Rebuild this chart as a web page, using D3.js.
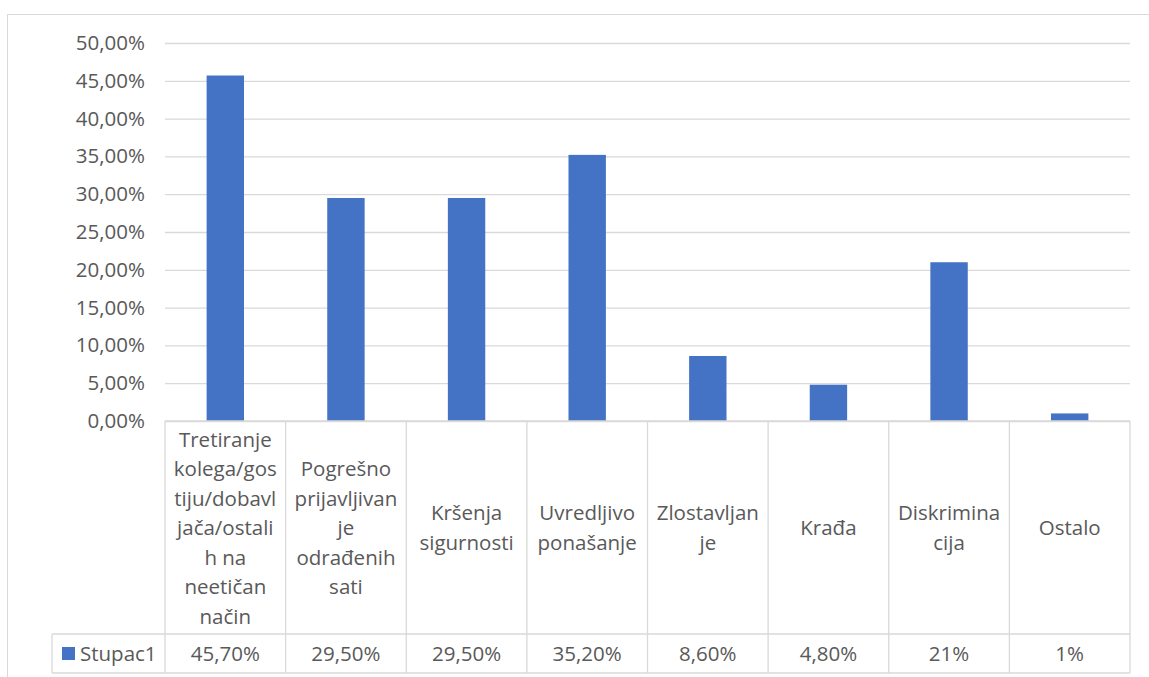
<!DOCTYPE html>
<html>
<head>
<meta charset="utf-8">
<script src="https://cdn.jsdelivr.net/npm/d3@7"></script>
<style>
  body { margin: 0; background: #fff; }
  text { font-family: "Open Sans", sans-serif; fill: #595959; }
</style>
</head>
<body>
<svg id="chart" width="1149" height="677"></svg>
<script>
// data
const categories = [
  "Tretiranje kolega/gostiju/dobavljača/ostalih na neetičan način",
  "Pogrešno prijavljivanje odrađenih sati",
  "Kršenja sigurnosti",
  "Uvredljivo ponašanje",
  "Zlostavljanje",
  "Krađa",
  "Diskriminacija",
  "Ostalo"
];
// wrapped the way the table shows them
const categoryLines = [
  ["Tretiranje", "kolega/gos", "tiju/dobavl", "jača/ostali", "h na", "neetičan", "način"],
  ["Pogrešno", "prijavljivan", "je", "odrađenih", "sati"],
  ["Kršenja", "sigurnosti"],
  ["Uvredljivo", "ponašanje"],
  ["Zlostavljan", "je"],
  ["Krađa"],
  ["Diskrimina", "cija"],
  ["Ostalo"]
];
const values = [0.457, 0.295, 0.295, 0.352, 0.086, 0.048, 0.21, 0.01];
const valueLabels = ["45,70%", "29,50%", "29,50%", "35,20%", "8,60%", "4,80%", "21%", "1%"];
const seriesName = "Stupac1";
const yTicks = [0, 0.05, 0.1, 0.15, 0.2, 0.25, 0.3, 0.35, 0.4, 0.45, 0.5];

const svg = d3.select("#chart");
const grid = "#d9d9d9";
const blue = "#4472c4";
const fs = 20.5;

// outer chart border
svg.append("rect")
  .attr("x", 7.5).attr("y", 14.5)
  .attr("width", 1160).attr("height", 700)
  .attr("fill", "#fff")
  .attr("stroke", grid);

const plotLeft = 165, plotRight = 1130, plotTop = 43, plotBottom = 421;
const headBottom = 634, rowBottom = 673, legendLeft = 52;

const x = d3.scaleBand()
  .domain(categories)
  .range([plotLeft, plotRight])
  .paddingInner(0)
  .paddingOuter(0);

const y = d3.scaleLinear()
  .domain([0, 0.5])
  .range([plotBottom, plotTop]);

const fmt = v => d3.format(".2f")(v * 100).replace(".", ",") + "%";

// gridlines + y labels
const yAxis = svg.append("g")
  .attr("transform", `translate(${plotLeft},0)`)
  .call(d3.axisLeft(y).tickValues(yTicks).tickFormat(fmt).tickSize(-(plotRight - plotLeft)).tickPadding(20));
yAxis.select(".domain").remove();
yAxis.selectAll(".tick line").attr("stroke", grid).attr("stroke-width", 1.3);
yAxis.selectAll(".tick text")
  .style("font-family", "'Open Sans', sans-serif")
  .style("font-size", fs + "px")
  .attr("fill", "#595959");

// bars
const bw = x.bandwidth() * 0.31;
svg.append("g")
  .selectAll("rect")
  .data(values)
  .enter()
  .append("rect")
  .attr("x", (d, i) => x(categories[i]) + (x.bandwidth() - bw) / 2)
  .attr("y", d => y(d))
  .attr("width", bw)
  .attr("height", d => y(0) - y(d))
  .attr("fill", blue);

// data table
const table = svg.append("g")
  .attr("stroke", grid)
  .attr("stroke-width", 1.3)
  .attr("fill", "none");

table.append("line").attr("x1", plotLeft).attr("x2", plotRight).attr("y1", plotBottom).attr("y2", plotBottom);
table.append("line").attr("x1", legendLeft).attr("x2", plotRight).attr("y1", headBottom).attr("y2", headBottom);
table.append("line").attr("x1", legendLeft).attr("x2", plotRight).attr("y1", rowBottom).attr("y2", rowBottom);
table.append("line").attr("x1", legendLeft).attr("x2", legendLeft).attr("y1", headBottom).attr("y2", rowBottom);

const edges = categories.map(c => x(c)).concat([plotRight]);
table.selectAll("line.v")
  .data(edges)
  .enter()
  .append("line")
  .attr("class", "v")
  .attr("x1", d => d).attr("x2", d => d)
  .attr("y1", plotBottom).attr("y2", rowBottom);

// category labels
const lh = 29.5;
const headMid = (plotBottom + headBottom) / 2;
const labels = svg.append("g");
categoryLines.forEach((lines, i) => {
  const cx = x(categories[i]) + x.bandwidth() / 2;
  const t = labels.append("text")
    .attr("text-anchor", "middle")
    .style("font-size", fs + "px");
  lines.forEach((ln, j) => {
    t.append("tspan")
      .attr("x", cx)
      .attr("y", headMid + (j - (lines.length - 1) / 2) * lh + 7.5)
      .text(ln);
  });
});

// values row
const rowMid = (headBottom + rowBottom) / 2;
svg.append("g")
  .selectAll("text")
  .data(valueLabels)
  .enter()
  .append("text")
  .attr("x", (d, i) => x(categories[i]) + x.bandwidth() / 2)
  .attr("y", rowMid + 7.5)
  .attr("text-anchor", "middle")
  .style("font-size", fs + "px")
  .text(d => d);

// legend key
svg.append("rect")
  .attr("x", 62).attr("y", 647)
  .attr("width", 13).attr("height", 13)
  .attr("fill", blue);
svg.append("text")
  .attr("x", 80).attr("y", rowMid + 7.5)
  .style("font-size", fs + "px")
  .text(seriesName);
</script>
</body>
</html>
